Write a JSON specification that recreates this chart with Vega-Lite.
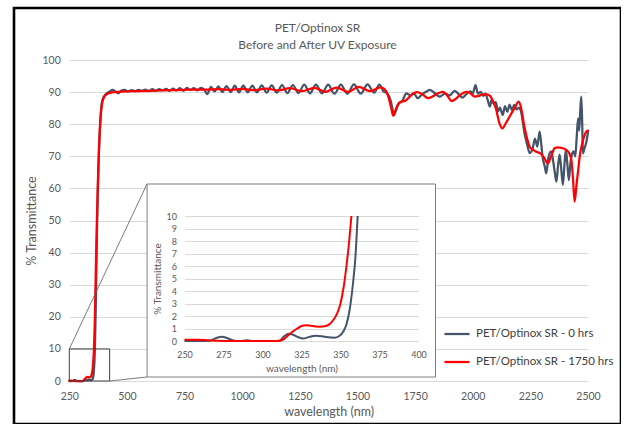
{
"$schema": "https://vega.github.io/schema/vega-lite/v6.json",
"width": 607, "height": 416,
"autosize": {"type": "none"},
"padding": {"left": 14, "top": 8, "right": 0, "bottom": 0},
"background": "white",
"title": {"text": ["PET/Optinox SR", "Before and After UV Exposure"], "frame": "group", "anchor": "middle", "orient": "top", "baseline": "bottom", "offset": -56, "lineHeight": 17, "font": "Lato", "fontSize": 12, "fontWeight": "normal", "color": "#595959"},
"datasets": {"spectra": [
{"series":"PET/Optinox SR - 0 hrs","wl":250,"t":0.0},
{"series":"PET/Optinox SR - 0 hrs","wl":260,"t":0.0},
{"series":"PET/Optinox SR - 0 hrs","wl":266,"t":0.02},
{"series":"PET/Optinox SR - 0 hrs","wl":270,"t":0.22},
{"series":"PET/Optinox SR - 0 hrs","wl":274,"t":0.35},
{"series":"PET/Optinox SR - 0 hrs","wl":278,"t":0.2},
{"series":"PET/Optinox SR - 0 hrs","wl":282,"t":0.03},
{"series":"PET/Optinox SR - 0 hrs","wl":286,"t":0.0},
{"series":"PET/Optinox SR - 0 hrs","wl":290,"t":0.06},
{"series":"PET/Optinox SR - 0 hrs","wl":294,"t":0.0},
{"series":"PET/Optinox SR - 0 hrs","wl":300,"t":0.0},
{"series":"PET/Optinox SR - 0 hrs","wl":306,"t":0.0},
{"series":"PET/Optinox SR - 0 hrs","wl":311,"t":0.03},
{"series":"PET/Optinox SR - 0 hrs","wl":314,"t":0.4},
{"series":"PET/Optinox SR - 0 hrs","wl":317,"t":0.58},
{"series":"PET/Optinox SR - 0 hrs","wl":320,"t":0.48},
{"series":"PET/Optinox SR - 0 hrs","wl":323,"t":0.3},
{"series":"PET/Optinox SR - 0 hrs","wl":326,"t":0.2},
{"series":"PET/Optinox SR - 0 hrs","wl":330,"t":0.33},
{"series":"PET/Optinox SR - 0 hrs","wl":334,"t":0.42},
{"series":"PET/Optinox SR - 0 hrs","wl":338,"t":0.38},
{"series":"PET/Optinox SR - 0 hrs","wl":342,"t":0.3},
{"series":"PET/Optinox SR - 0 hrs","wl":346,"t":0.27},
{"series":"PET/Optinox SR - 0 hrs","wl":349,"t":0.38},
{"series":"PET/Optinox SR - 0 hrs","wl":352,"t":0.8},
{"series":"PET/Optinox SR - 0 hrs","wl":354,"t":1.4},
{"series":"PET/Optinox SR - 0 hrs","wl":356,"t":2.6},
{"series":"PET/Optinox SR - 0 hrs","wl":358,"t":4.6},
{"series":"PET/Optinox SR - 0 hrs","wl":359.5,"t":6.6},
{"series":"PET/Optinox SR - 0 hrs","wl":361,"t":10.0},
{"series":"PET/Optinox SR - 0 hrs","wl":364,"t":20},
{"series":"PET/Optinox SR - 0 hrs","wl":367,"t":33},
{"series":"PET/Optinox SR - 0 hrs","wl":370,"t":46},
{"series":"PET/Optinox SR - 0 hrs","wl":374,"t":60},
{"series":"PET/Optinox SR - 0 hrs","wl":378,"t":70},
{"series":"PET/Optinox SR - 0 hrs","wl":382,"t":77},
{"series":"PET/Optinox SR - 0 hrs","wl":386,"t":82.5},
{"series":"PET/Optinox SR - 0 hrs","wl":390,"t":86},
{"series":"PET/Optinox SR - 0 hrs","wl":395,"t":87.8},
{"series":"PET/Optinox SR - 0 hrs","wl":400,"t":88.6},
{"series":"PET/Optinox SR - 0 hrs","wl":412,"t":89.6},
{"series":"PET/Optinox SR - 0 hrs","wl":425,"t":90.2},
{"series":"PET/Optinox SR - 0 hrs","wl":438,"t":90.7},
{"series":"PET/Optinox SR - 0 hrs","wl":450,"t":90.2},
{"series":"PET/Optinox SR - 0 hrs","wl":462,"t":89.6},
{"series":"PET/Optinox SR - 0 hrs","wl":475,"t":90.4},
{"series":"PET/Optinox SR - 0 hrs","wl":490,"t":90.7},
{"series":"PET/Optinox SR - 0 hrs","wl":505,"t":90.2},
{"series":"PET/Optinox SR - 0 hrs","wl":520,"t":90.6},
{"series":"PET/Optinox SR - 0 hrs","wl":535,"t":90.3},
{"series":"PET/Optinox SR - 0 hrs","wl":550,"t":90.7},
{"series":"PET/Optinox SR - 0 hrs","wl":565,"t":90.4},
{"series":"PET/Optinox SR - 0 hrs","wl":580,"t":90.8},
{"series":"PET/Optinox SR - 0 hrs","wl":595,"t":90.3},
{"series":"PET/Optinox SR - 0 hrs","wl":610,"t":90.9},
{"series":"PET/Optinox SR - 0 hrs","wl":625,"t":90.4},
{"series":"PET/Optinox SR - 0 hrs","wl":640,"t":90.9},
{"series":"PET/Optinox SR - 0 hrs","wl":655,"t":90.5},
{"series":"PET/Optinox SR - 0 hrs","wl":670,"t":91.0},
{"series":"PET/Optinox SR - 0 hrs","wl":685,"t":90.4},
{"series":"PET/Optinox SR - 0 hrs","wl":700,"t":91.1},
{"series":"PET/Optinox SR - 0 hrs","wl":715,"t":90.5},
{"series":"PET/Optinox SR - 0 hrs","wl":730,"t":91.2},
{"series":"PET/Optinox SR - 0 hrs","wl":745,"t":90.4},
{"series":"PET/Optinox SR - 0 hrs","wl":760,"t":91.3},
{"series":"PET/Optinox SR - 0 hrs","wl":775,"t":90.6},
{"series":"PET/Optinox SR - 0 hrs","wl":790,"t":91.2},
{"series":"PET/Optinox SR - 0 hrs","wl":805,"t":90.5},
{"series":"PET/Optinox SR - 0 hrs","wl":820,"t":91.3},
{"series":"PET/Optinox SR - 0 hrs","wl":835,"t":90.8},
{"series":"PET/Optinox SR - 0 hrs","wl":848,"t":89.4},
{"series":"PET/Optinox SR - 0 hrs","wl":865,"t":91.6},
{"series":"PET/Optinox SR - 0 hrs","wl":880,"t":90.2},
{"series":"PET/Optinox SR - 0 hrs","wl":897,"t":91.8},
{"series":"PET/Optinox SR - 0 hrs","wl":914,"t":90.0},
{"series":"PET/Optinox SR - 0 hrs","wl":932,"t":91.9},
{"series":"PET/Optinox SR - 0 hrs","wl":950,"t":90.0},
{"series":"PET/Optinox SR - 0 hrs","wl":968,"t":92.0},
{"series":"PET/Optinox SR - 0 hrs","wl":986,"t":89.9},
{"series":"PET/Optinox SR - 0 hrs","wl":1005,"t":92.0},
{"series":"PET/Optinox SR - 0 hrs","wl":1024,"t":89.9},
{"series":"PET/Optinox SR - 0 hrs","wl":1044,"t":92.0},
{"series":"PET/Optinox SR - 0 hrs","wl":1064,"t":89.9},
{"series":"PET/Optinox SR - 0 hrs","wl":1085,"t":92.1},
{"series":"PET/Optinox SR - 0 hrs","wl":1106,"t":89.8},
{"series":"PET/Optinox SR - 0 hrs","wl":1128,"t":92.1},
{"series":"PET/Optinox SR - 0 hrs","wl":1150,"t":89.8},
{"series":"PET/Optinox SR - 0 hrs","wl":1173,"t":92.2},
{"series":"PET/Optinox SR - 0 hrs","wl":1196,"t":89.7},
{"series":"PET/Optinox SR - 0 hrs","wl":1220,"t":92.2},
{"series":"PET/Optinox SR - 0 hrs","wl":1244,"t":89.7},
{"series":"PET/Optinox SR - 0 hrs","wl":1269,"t":92.3},
{"series":"PET/Optinox SR - 0 hrs","wl":1294,"t":89.6},
{"series":"PET/Optinox SR - 0 hrs","wl":1320,"t":92.3},
{"series":"PET/Optinox SR - 0 hrs","wl":1346,"t":89.6},
{"series":"PET/Optinox SR - 0 hrs","wl":1373,"t":92.3},
{"series":"PET/Optinox SR - 0 hrs","wl":1400,"t":89.5},
{"series":"PET/Optinox SR - 0 hrs","wl":1428,"t":92.3},
{"series":"PET/Optinox SR - 0 hrs","wl":1456,"t":89.5},
{"series":"PET/Optinox SR - 0 hrs","wl":1485,"t":92.4},
{"series":"PET/Optinox SR - 0 hrs","wl":1514,"t":89.5},
{"series":"PET/Optinox SR - 0 hrs","wl":1544,"t":92.4},
{"series":"PET/Optinox SR - 0 hrs","wl":1572,"t":89.8},
{"series":"PET/Optinox SR - 0 hrs","wl":1595,"t":92.3},
{"series":"PET/Optinox SR - 0 hrs","wl":1612,"t":90.3},
{"series":"PET/Optinox SR - 0 hrs","wl":1628,"t":89.6},
{"series":"PET/Optinox SR - 0 hrs","wl":1642,"t":87.8},
{"series":"PET/Optinox SR - 0 hrs","wl":1650,"t":85.5},
{"series":"PET/Optinox SR - 0 hrs","wl":1658,"t":82.8},
{"series":"PET/Optinox SR - 0 hrs","wl":1668,"t":84.5},
{"series":"PET/Optinox SR - 0 hrs","wl":1680,"t":86.6},
{"series":"PET/Optinox SR - 0 hrs","wl":1695,"t":87.3},
{"series":"PET/Optinox SR - 0 hrs","wl":1712,"t":89.6},
{"series":"PET/Optinox SR - 0 hrs","wl":1730,"t":89.0},
{"series":"PET/Optinox SR - 0 hrs","wl":1745,"t":89.6},
{"series":"PET/Optinox SR - 0 hrs","wl":1761,"t":88.1},
{"series":"PET/Optinox SR - 0 hrs","wl":1785,"t":89.6},
{"series":"PET/Optinox SR - 0 hrs","wl":1800,"t":90.2},
{"series":"PET/Optinox SR - 0 hrs","wl":1813,"t":90.7},
{"series":"PET/Optinox SR - 0 hrs","wl":1835,"t":89.7},
{"series":"PET/Optinox SR - 0 hrs","wl":1857,"t":88.6},
{"series":"PET/Optinox SR - 0 hrs","wl":1880,"t":89.5},
{"series":"PET/Optinox SR - 0 hrs","wl":1900,"t":89.0},
{"series":"PET/Optinox SR - 0 hrs","wl":1922,"t":90.4},
{"series":"PET/Optinox SR - 0 hrs","wl":1940,"t":89.3},
{"series":"PET/Optinox SR - 0 hrs","wl":1955,"t":88.3},
{"series":"PET/Optinox SR - 0 hrs","wl":1970,"t":89.2},
{"series":"PET/Optinox SR - 0 hrs","wl":1990,"t":90.2},
{"series":"PET/Optinox SR - 0 hrs","wl":2000,"t":89.6},
{"series":"PET/Optinox SR - 0 hrs","wl":2012,"t":92.2},
{"series":"PET/Optinox SR - 0 hrs","wl":2022,"t":89.6},
{"series":"PET/Optinox SR - 0 hrs","wl":2035,"t":90.1},
{"series":"PET/Optinox SR - 0 hrs","wl":2045,"t":88.8},
{"series":"PET/Optinox SR - 0 hrs","wl":2055,"t":89.5},
{"series":"PET/Optinox SR - 0 hrs","wl":2065,"t":87.5},
{"series":"PET/Optinox SR - 0 hrs","wl":2074,"t":85.5},
{"series":"PET/Optinox SR - 0 hrs","wl":2082,"t":87.6},
{"series":"PET/Optinox SR - 0 hrs","wl":2090,"t":86.4},
{"series":"PET/Optinox SR - 0 hrs","wl":2100,"t":86.9},
{"series":"PET/Optinox SR - 0 hrs","wl":2110,"t":84.0},
{"series":"PET/Optinox SR - 0 hrs","wl":2118,"t":85.2},
{"series":"PET/Optinox SR - 0 hrs","wl":2130,"t":82.9},
{"series":"PET/Optinox SR - 0 hrs","wl":2140,"t":85.6},
{"series":"PET/Optinox SR - 0 hrs","wl":2150,"t":83.9},
{"series":"PET/Optinox SR - 0 hrs","wl":2160,"t":86.1},
{"series":"PET/Optinox SR - 0 hrs","wl":2170,"t":84.4},
{"series":"PET/Optinox SR - 0 hrs","wl":2180,"t":86.0},
{"series":"PET/Optinox SR - 0 hrs","wl":2190,"t":84.6},
{"series":"PET/Optinox SR - 0 hrs","wl":2200,"t":85.1},
{"series":"PET/Optinox SR - 0 hrs","wl":2210,"t":83.8},
{"series":"PET/Optinox SR - 0 hrs","wl":2217,"t":80.8},
{"series":"PET/Optinox SR - 0 hrs","wl":2225,"t":77.0},
{"series":"PET/Optinox SR - 0 hrs","wl":2235,"t":74.0},
{"series":"PET/Optinox SR - 0 hrs","wl":2247,"t":71.0},
{"series":"PET/Optinox SR - 0 hrs","wl":2260,"t":72.5},
{"series":"PET/Optinox SR - 0 hrs","wl":2270,"t":75.5},
{"series":"PET/Optinox SR - 0 hrs","wl":2280,"t":73.0},
{"series":"PET/Optinox SR - 0 hrs","wl":2290,"t":77.7},
{"series":"PET/Optinox SR - 0 hrs","wl":2297,"t":74.0},
{"series":"PET/Optinox SR - 0 hrs","wl":2303,"t":69.8},
{"series":"PET/Optinox SR - 0 hrs","wl":2312,"t":67.0},
{"series":"PET/Optinox SR - 0 hrs","wl":2319,"t":64.7},
{"series":"PET/Optinox SR - 0 hrs","wl":2328,"t":69.5},
{"series":"PET/Optinox SR - 0 hrs","wl":2340,"t":71.5},
{"series":"PET/Optinox SR - 0 hrs","wl":2350,"t":68.0},
{"series":"PET/Optinox SR - 0 hrs","wl":2356,"t":65.0},
{"series":"PET/Optinox SR - 0 hrs","wl":2363,"t":62.1},
{"series":"PET/Optinox SR - 0 hrs","wl":2370,"t":67.0},
{"series":"PET/Optinox SR - 0 hrs","wl":2377,"t":70.5},
{"series":"PET/Optinox SR - 0 hrs","wl":2384,"t":66.0},
{"series":"PET/Optinox SR - 0 hrs","wl":2391,"t":61.1},
{"series":"PET/Optinox SR - 0 hrs","wl":2398,"t":67.5},
{"series":"PET/Optinox SR - 0 hrs","wl":2404,"t":72.0},
{"series":"PET/Optinox SR - 0 hrs","wl":2410,"t":68.0},
{"series":"PET/Optinox SR - 0 hrs","wl":2417,"t":62.6},
{"series":"PET/Optinox SR - 0 hrs","wl":2424,"t":68.0},
{"series":"PET/Optinox SR - 0 hrs","wl":2430,"t":70.5},
{"series":"PET/Optinox SR - 0 hrs","wl":2438,"t":71.5},
{"series":"PET/Optinox SR - 0 hrs","wl":2445,"t":70.0},
{"series":"PET/Optinox SR - 0 hrs","wl":2451,"t":76.0},
{"series":"PET/Optinox SR - 0 hrs","wl":2457,"t":81.8},
{"series":"PET/Optinox SR - 0 hrs","wl":2462,"t":78.0},
{"series":"PET/Optinox SR - 0 hrs","wl":2467,"t":85.0},
{"series":"PET/Optinox SR - 0 hrs","wl":2471,"t":88.6},
{"series":"PET/Optinox SR - 0 hrs","wl":2475,"t":80.0},
{"series":"PET/Optinox SR - 0 hrs","wl":2478,"t":70.9},
{"series":"PET/Optinox SR - 0 hrs","wl":2485,"t":72.5},
{"series":"PET/Optinox SR - 0 hrs","wl":2493,"t":74.5},
{"series":"PET/Optinox SR - 0 hrs","wl":2500,"t":77.5},
{"series":"PET/Optinox SR - 1750 hrs","wl":250,"t":0.1},
{"series":"PET/Optinox SR - 1750 hrs","wl":258,"t":0.1},
{"series":"PET/Optinox SR - 1750 hrs","wl":265,"t":0.06},
{"series":"PET/Optinox SR - 1750 hrs","wl":272,"t":0.02},
{"series":"PET/Optinox SR - 1750 hrs","wl":280,"t":0.0},
{"series":"PET/Optinox SR - 1750 hrs","wl":295,"t":0.0},
{"series":"PET/Optinox SR - 1750 hrs","wl":305,"t":0.0},
{"series":"PET/Optinox SR - 1750 hrs","wl":310,"t":0.0},
{"series":"PET/Optinox SR - 1750 hrs","wl":313,"t":0.1},
{"series":"PET/Optinox SR - 1750 hrs","wl":316,"t":0.4},
{"series":"PET/Optinox SR - 1750 hrs","wl":319,"t":0.72},
{"series":"PET/Optinox SR - 1750 hrs","wl":322,"t":0.98},
{"series":"PET/Optinox SR - 1750 hrs","wl":325,"t":1.2},
{"series":"PET/Optinox SR - 1750 hrs","wl":328,"t":1.27},
{"series":"PET/Optinox SR - 1750 hrs","wl":331,"t":1.22},
{"series":"PET/Optinox SR - 1750 hrs","wl":334,"t":1.16},
{"series":"PET/Optinox SR - 1750 hrs","wl":337,"t":1.15},
{"series":"PET/Optinox SR - 1750 hrs","wl":340,"t":1.18},
{"series":"PET/Optinox SR - 1750 hrs","wl":343,"t":1.35},
{"series":"PET/Optinox SR - 1750 hrs","wl":345.5,"t":1.7},
{"series":"PET/Optinox SR - 1750 hrs","wl":348,"t":2.25},
{"series":"PET/Optinox SR - 1750 hrs","wl":350,"t":3.0},
{"series":"PET/Optinox SR - 1750 hrs","wl":352,"t":4.3},
{"series":"PET/Optinox SR - 1750 hrs","wl":354,"t":6.2},
{"series":"PET/Optinox SR - 1750 hrs","wl":355.5,"t":7.9},
{"series":"PET/Optinox SR - 1750 hrs","wl":357,"t":10.0},
{"series":"PET/Optinox SR - 1750 hrs","wl":360,"t":17},
{"series":"PET/Optinox SR - 1750 hrs","wl":363,"t":27},
{"series":"PET/Optinox SR - 1750 hrs","wl":366,"t":38},
{"series":"PET/Optinox SR - 1750 hrs","wl":370,"t":51},
{"series":"PET/Optinox SR - 1750 hrs","wl":374,"t":62},
{"series":"PET/Optinox SR - 1750 hrs","wl":378,"t":71},
{"series":"PET/Optinox SR - 1750 hrs","wl":382,"t":78},
{"series":"PET/Optinox SR - 1750 hrs","wl":386,"t":82.5},
{"series":"PET/Optinox SR - 1750 hrs","wl":390,"t":85.5},
{"series":"PET/Optinox SR - 1750 hrs","wl":395,"t":87.3},
{"series":"PET/Optinox SR - 1750 hrs","wl":400,"t":88.3},
{"series":"PET/Optinox SR - 1750 hrs","wl":410,"t":89.2},
{"series":"PET/Optinox SR - 1750 hrs","wl":420,"t":89.6},
{"series":"PET/Optinox SR - 1750 hrs","wl":435,"t":89.9},
{"series":"PET/Optinox SR - 1750 hrs","wl":450,"t":90.0},
{"series":"PET/Optinox SR - 1750 hrs","wl":500,"t":90.2},
{"series":"PET/Optinox SR - 1750 hrs","wl":550,"t":90.3},
{"series":"PET/Optinox SR - 1750 hrs","wl":600,"t":90.4},
{"series":"PET/Optinox SR - 1750 hrs","wl":650,"t":90.5},
{"series":"PET/Optinox SR - 1750 hrs","wl":700,"t":90.6},
{"series":"PET/Optinox SR - 1750 hrs","wl":750,"t":90.7},
{"series":"PET/Optinox SR - 1750 hrs","wl":800,"t":90.8},
{"series":"PET/Optinox SR - 1750 hrs","wl":850,"t":90.8},
{"series":"PET/Optinox SR - 1750 hrs","wl":900,"t":90.9},
{"series":"PET/Optinox SR - 1750 hrs","wl":950,"t":90.7},
{"series":"PET/Optinox SR - 1750 hrs","wl":1000,"t":91.0},
{"series":"PET/Optinox SR - 1750 hrs","wl":1055,"t":90.6},
{"series":"PET/Optinox SR - 1750 hrs","wl":1105,"t":91.1},
{"series":"PET/Optinox SR - 1750 hrs","wl":1155,"t":90.5},
{"series":"PET/Optinox SR - 1750 hrs","wl":1207,"t":91.2},
{"series":"PET/Optinox SR - 1750 hrs","wl":1260,"t":90.3},
{"series":"PET/Optinox SR - 1750 hrs","wl":1312,"t":91.3},
{"series":"PET/Optinox SR - 1750 hrs","wl":1360,"t":90.1},
{"series":"PET/Optinox SR - 1750 hrs","wl":1410,"t":91.4},
{"series":"PET/Optinox SR - 1750 hrs","wl":1460,"t":90.1},
{"series":"PET/Optinox SR - 1750 hrs","wl":1505,"t":91.6},
{"series":"PET/Optinox SR - 1750 hrs","wl":1555,"t":90.3},
{"series":"PET/Optinox SR - 1750 hrs","wl":1600,"t":91.5},
{"series":"PET/Optinox SR - 1750 hrs","wl":1616,"t":91.0},
{"series":"PET/Optinox SR - 1750 hrs","wl":1628,"t":89.8},
{"series":"PET/Optinox SR - 1750 hrs","wl":1640,"t":87.0},
{"series":"PET/Optinox SR - 1750 hrs","wl":1648,"t":84.5},
{"series":"PET/Optinox SR - 1750 hrs","wl":1655,"t":82.6},
{"series":"PET/Optinox SR - 1750 hrs","wl":1663,"t":84.0},
{"series":"PET/Optinox SR - 1750 hrs","wl":1675,"t":86.0},
{"series":"PET/Optinox SR - 1750 hrs","wl":1691,"t":87.0},
{"series":"PET/Optinox SR - 1750 hrs","wl":1710,"t":87.4},
{"series":"PET/Optinox SR - 1750 hrs","wl":1730,"t":88.8},
{"series":"PET/Optinox SR - 1750 hrs","wl":1745,"t":89.7},
{"series":"PET/Optinox SR - 1750 hrs","wl":1758,"t":90.0},
{"series":"PET/Optinox SR - 1750 hrs","wl":1780,"t":89.4},
{"series":"PET/Optinox SR - 1750 hrs","wl":1806,"t":88.1},
{"series":"PET/Optinox SR - 1750 hrs","wl":1825,"t":88.6},
{"series":"PET/Optinox SR - 1750 hrs","wl":1840,"t":89.3},
{"series":"PET/Optinox SR - 1750 hrs","wl":1871,"t":90.1},
{"series":"PET/Optinox SR - 1750 hrs","wl":1890,"t":88.9},
{"series":"PET/Optinox SR - 1750 hrs","wl":1908,"t":87.2},
{"series":"PET/Optinox SR - 1750 hrs","wl":1925,"t":87.8},
{"series":"PET/Optinox SR - 1750 hrs","wl":1940,"t":88.8},
{"series":"PET/Optinox SR - 1750 hrs","wl":1973,"t":90.1},
{"series":"PET/Optinox SR - 1750 hrs","wl":1990,"t":89.6},
{"series":"PET/Optinox SR - 1750 hrs","wl":2009,"t":88.6},
{"series":"PET/Optinox SR - 1750 hrs","wl":2025,"t":88.8},
{"series":"PET/Optinox SR - 1750 hrs","wl":2040,"t":89.2},
{"series":"PET/Optinox SR - 1750 hrs","wl":2059,"t":89.3},
{"series":"PET/Optinox SR - 1750 hrs","wl":2075,"t":88.8},
{"series":"PET/Optinox SR - 1750 hrs","wl":2090,"t":86.8},
{"series":"PET/Optinox SR - 1750 hrs","wl":2100,"t":85.0},
{"series":"PET/Optinox SR - 1750 hrs","wl":2115,"t":80.5},
{"series":"PET/Optinox SR - 1750 hrs","wl":2129,"t":78.7},
{"series":"PET/Optinox SR - 1750 hrs","wl":2145,"t":80.5},
{"series":"PET/Optinox SR - 1750 hrs","wl":2165,"t":83.0},
{"series":"PET/Optinox SR - 1750 hrs","wl":2185,"t":85.5},
{"series":"PET/Optinox SR - 1750 hrs","wl":2199,"t":87.0},
{"series":"PET/Optinox SR - 1750 hrs","wl":2210,"t":85.0},
{"series":"PET/Optinox SR - 1750 hrs","wl":2222,"t":80.0},
{"series":"PET/Optinox SR - 1750 hrs","wl":2232,"t":76.6},
{"series":"PET/Optinox SR - 1750 hrs","wl":2247,"t":73.0},
{"series":"PET/Optinox SR - 1750 hrs","wl":2262,"t":72.0},
{"series":"PET/Optinox SR - 1750 hrs","wl":2276,"t":71.4},
{"series":"PET/Optinox SR - 1750 hrs","wl":2295,"t":70.8},
{"series":"PET/Optinox SR - 1750 hrs","wl":2310,"t":69.5},
{"series":"PET/Optinox SR - 1750 hrs","wl":2326,"t":67.8},
{"series":"PET/Optinox SR - 1750 hrs","wl":2340,"t":70.0},
{"series":"PET/Optinox SR - 1750 hrs","wl":2355,"t":72.5},
{"series":"PET/Optinox SR - 1750 hrs","wl":2370,"t":72.8},
{"series":"PET/Optinox SR - 1750 hrs","wl":2390,"t":72.5},
{"series":"PET/Optinox SR - 1750 hrs","wl":2406,"t":72.0},
{"series":"PET/Optinox SR - 1750 hrs","wl":2418,"t":71.0},
{"series":"PET/Optinox SR - 1750 hrs","wl":2428,"t":68.8},
{"series":"PET/Optinox SR - 1750 hrs","wl":2435,"t":63.0},
{"series":"PET/Optinox SR - 1750 hrs","wl":2442,"t":55.9},
{"series":"PET/Optinox SR - 1750 hrs","wl":2450,"t":61.0},
{"series":"PET/Optinox SR - 1750 hrs","wl":2458,"t":66.0},
{"series":"PET/Optinox SR - 1750 hrs","wl":2464,"t":69.9},
{"series":"PET/Optinox SR - 1750 hrs","wl":2475,"t":74.0},
{"series":"PET/Optinox SR - 1750 hrs","wl":2485,"t":76.5},
{"series":"PET/Optinox SR - 1750 hrs","wl":2493,"t":77.7},
{"series":"PET/Optinox SR - 1750 hrs","wl":2500,"t":78.0}
]},
"layer": [
{
 "data": {"name": "spectra"},
 "transform": [{"filter": "datum.wl <= 1850"}],
 "mark": {"type": "line", "interpolate": "monotone", "strokeWidth": 2.25, "strokeCap": "round", "strokeJoin": "round"},
 "encoding": {
  "x": {"field": "wl", "type": "quantitative",
   "scale": {"domain": [250, 2500], "range": [55.3, 574], "nice": false, "zero": false},
   "axis": {"orient": "bottom", "offset": -43, "values": [250,500,750,1000,1250,1500,1750,2000,2250,2500], "format": "d", "grid": false, "labelPadding": 10, "labelFontSize": 10.5, "title": "wavelength (nm)", "titleFontSize": 12.5, "titlePadding": 4}},
  "y": {"field": "t", "type": "quantitative",
   "scale": {"domain": [0, 100], "range": [373, 52], "nice": false, "zero": false},
   "axis": {"orient": "left", "offset": -55.3, "values": [0,70,80,90,100], "format": "d", "grid": true, "labelPadding": 9, "labelFontSize": 10.5, "title": "% Transmittance", "titleFontSize": 12.5, "titlePadding": 4, "titleColor": "#595959"}},
  "color": {"field": "series", "type": "nominal",
   "scale": {"domain": ["PET/Optinox SR - 0 hrs", "PET/Optinox SR - 1750 hrs"], "range": ["#44546a", "#ff0000"]},
   "legend": {"title": null}}
 }
},
{
 "data": {"name": "spectra"},
 "transform": [{"filter": "datum.wl >= 1830"}],
 "mark": {"type": "line", "interpolate": "monotone", "strokeWidth": 2.25, "strokeCap": "round", "strokeJoin": "round"},
 "encoding": {
  "x": {"field": "wl", "type": "quantitative",
   "scale": {"domain": [1838.5, 2500], "range": [421.5, 574], "nice": false, "zero": false},
   "axis": null},
  "y": {"field": "t", "type": "quantitative",
   "scale": {"domain": [0, 100], "range": [373, 52], "nice": false, "zero": false},
   "axis": {"orient": "left", "values": [10,20,30,40,50,60], "grid": true, "labels": false, "title": null}},
  "color": {"field": "series", "type": "nominal"}
 }
},
{
 "data": {"values": [{}]},
 "layer": [
  {"mark": {"type": "rect", "filled": false, "stroke": "#404040", "strokeWidth": 1},
   "encoding": {
    "x": {"datum": 250, "type": "quantitative", "scale": {"domain": [250, 587], "range": [55.3, 133], "nice": false, "zero": false}, "axis": null},
    "x2": {"datum": 425},
    "y": {"datum": 10, "type": "quantitative", "scale": {"domain": [0, 100], "range": [373, 52], "nice": false, "zero": false},
     "axis": {"orient": "left", "offset": -55.3, "values": [10,20,30,40,50,60], "format": "d", "grid": true, "labelPadding": 9, "labelFontSize": 10.5, "title": null}},
    "y2": {"datum": 0}
   }},
  {"mark": {"type": "rule", "stroke": "#595959", "strokeWidth": 0.8},
   "encoding": {"x": {"datum": 250, "type": "quantitative"}, "x2": {"datum": 587}, "y": {"datum": 10, "type": "quantitative"}, "y2": {"datum": 61.37}}},
  {"mark": {"type": "rule", "stroke": "#595959", "strokeWidth": 0.8},
   "encoding": {"x": {"datum": 425, "type": "quantitative"}, "x2": {"datum": 587}, "y": {"datum": 0, "type": "quantitative"}, "y2": {"datum": 1.25}}}
 ]
},
{
 "layer": [
  {"data": {"values": [{}]},
   "mark": {"type": "rect", "filled": false, "stroke": "#7f7f7f", "strokeWidth": 1},
   "encoding": {
    "x": {"datum": 226, "type": "quantitative", "scale": {"domain": [250, 400], "range": [170.5, 404.5], "nice": false, "zero": false},
     "axis": {"orient": "bottom", "offset": -83, "values": [250,275,300,325,350,375,400], "format": "d", "grid": false, "labelPadding": 9, "labelFontSize": 9, "title": "wavelength (nm)", "titleFontSize": 10, "titlePadding": 4}},
    "x2": {"datum": 410.9},
    "y": {"datum": 12.56, "type": "quantitative", "scale": {"domain": [0, 10], "range": [333, 208], "nice": false, "zero": false},
     "axis": {"orient": "left", "offset": -170.5, "values": [0,1,2,3,4,5,6,7,8,9,10], "format": "d", "grid": true, "labelPadding": 8, "labelFontSize": 9, "title": "% Transmittance", "titleFontSize": 10, "titlePadding": 4, "titleColor": "#595959"}},
    "y2": {"datum": -2.88}
   }},
  {"data": {"name": "spectra"},
   "transform": [{"filter": "datum.wl <= 400 && datum.t <= 10"}],
   "mark": {"type": "line", "interpolate": "monotone", "strokeWidth": 2},
   "encoding": {
    "x": {"field": "wl", "type": "quantitative"},
    "y": {"field": "t", "type": "quantitative"},
    "color": {"field": "series", "type": "nominal"}
   }}
 ]
}
],
"resolve": {"scale": {"x": "independent", "y": "independent"}, "axis": {"x": "independent", "y": "independent"}},
"config": {
 "view": {"stroke": "#000000", "strokeWidth": 2.6},
 "axis": {"labelFont": "Lato", "labelColor": "#595959", "titleFont": "Lato", "titleColor": "#595959", "titleFontWeight": "normal", "gridColor": "#d9d9d9", "gridWidth": 1, "domain": false, "ticks": false, "tickSize": 0, "labelFlush": false, "labelOverlap": false, "minExtent": 0},
 "legend": {"orient": "none", "legendX": 429, "legendY": 312, "symbolType": "stroke", "symbolSize": 625, "symbolStrokeWidth": 2.25, "labelFont": "Lato", "labelFontSize": 11.5, "labelColor": "#404040", "labelOffset": 5, "rowPadding": 8, "padding": 0}
}
}
